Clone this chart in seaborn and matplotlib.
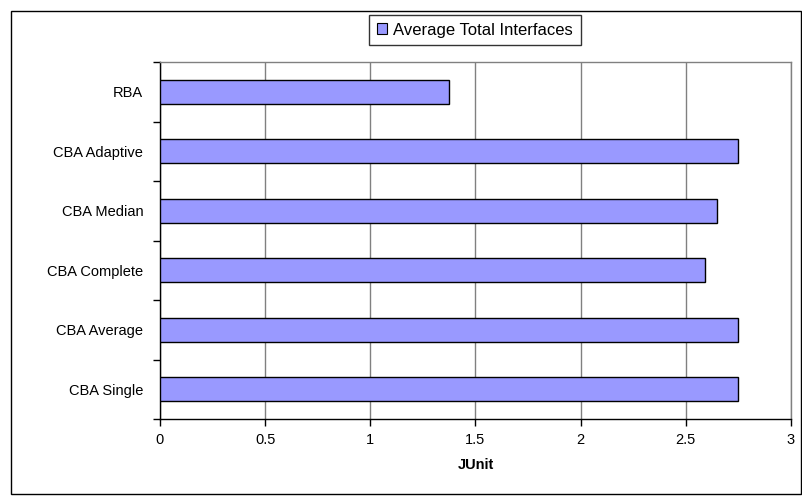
import matplotlib
matplotlib.use("Agg")
import matplotlib.pyplot as plt
from matplotlib.patches import Rectangle
import seaborn as sns
import pandas as pd

categories = ["RBA", "CBA Adaptive", "CBA Median", "CBA Complete", "CBA Average", "CBA Single"]
values = [1.375, 2.75, 2.65, 2.59, 2.75, 2.75]
series_name = "Average Total Interfaces"
xticks = [0, 0.5, 1, 1.5, 2, 2.5, 3]
xtick_labels = ["0", "0.5", "1", "1.5", "2", "2.5", "3"]

sns.set_style("white")
plt.rcParams["font.family"] = ["Liberation Sans", "DejaVu Sans"]
plt.rcParams["text.color"] = "black"
plt.rcParams["xtick.color"] = "black"
plt.rcParams["ytick.color"] = "black"
plt.rcParams["axes.labelcolor"] = "black"

df = pd.DataFrame({"category": categories, "value": values, "series": series_name})

W, H = 803, 496
fig = plt.figure(figsize=(W / 100, H / 100), dpi=100)
ax = fig.add_axes([160 / W, 1 - 419 / H, (791 - 160) / W, (419 - 62) / H])

sns.barplot(data=df, x="value", y="category", hue="series", order=categories,
            palette=["#9999FF"], saturation=1, edgecolor="black", linewidth=1.0,
            width=0.41, ax=ax, legend=False, zorder=3)

ax.set_xlim(0, 3)
ax.set_ylim(len(categories) - 0.5, -0.5)
ax.set_xticks(xticks)
ax.set_xticklabels(xtick_labels, fontsize=10.5)
ax.grid(axis="x", color="#808080", linewidth=1.0, zorder=0)
ax.grid(axis="y", visible=False)

# category labels at bar centres, tick marks at category boundaries
ax.set_yticks(range(len(categories)))
ax.set_yticklabels(categories, fontsize=10.5)
ax.tick_params(axis="y", which="major", left=True, length=0, pad=12)
ax.set_yticks([i - 0.5 for i in range(len(categories) + 1)], minor=True)
ax.tick_params(axis="y", which="minor", left=True, length=5, width=1,
               color="black", direction="out")
ax.tick_params(axis="x", bottom=True, length=5, width=1, color="black",
               direction="out", pad=5)

ax.set_xlabel("JUnit", fontsize=10.5, fontweight="bold", labelpad=8)
ax.set_ylabel("")

for side in ["left", "bottom"]:
    ax.spines[side].set_color("black")
    ax.spines[side].set_linewidth(1.0)
for side in ["top", "right"]:
    ax.spines[side].set_color("#808080")
    ax.spines[side].set_linewidth(1.0)

# chart area border
fig.patches.append(Rectangle((11 / W, 2 / H), (801 - 11) / W, (494 - 11) / H,
                             transform=fig.transFigure, fill=False,
                             edgecolor="black", linewidth=1.0))

# legend
handle = Rectangle((0, 0), 1, 1, facecolor="#9999FF", edgecolor="black", linewidth=0.8)
leg = fig.legend([handle], [series_name], loc="center",
                 bbox_to_anchor=(475 / W, 1 - 30 / H), fontsize=12,
                 frameon=True, fancybox=False, edgecolor="black",
                 handlelength=0.6, handleheight=0.6, handletextpad=0.4,
                 borderpad=0.45, borderaxespad=0)
leg.get_frame().set_linewidth(1.0)

fig.savefig("out.png", dpi=100)
